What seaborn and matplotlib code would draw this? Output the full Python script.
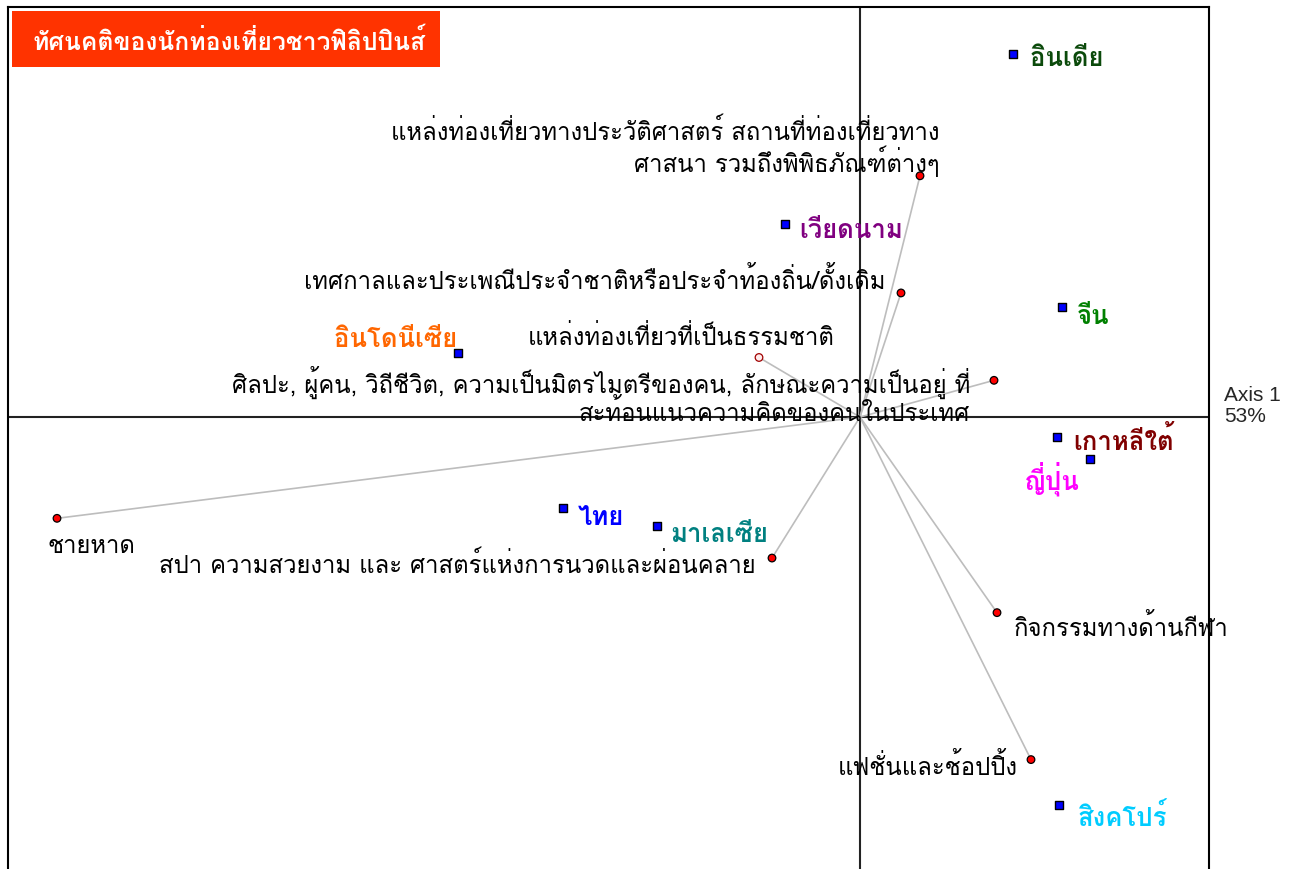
import matplotlib
matplotlib.use("Agg")
import matplotlib.pyplot as plt
from matplotlib.patches import Rectangle
import seaborn as sns
import pandas as pd

# ---- data: correspondence analysis coordinates ----
countries = ["อินเดีย", "เวียดนาม", "จีน", "อินโดนีเซีย", "เกาหลีใต้",
             "ญี่ปุ่น", "ไทย", "มาเลเซีย", "สิงคโปร์"]
country_x = [0.306, -0.150, 0.404, -0.804, 0.394, 0.460, -0.594, -0.406, 0.398]
country_y = [0.732, 0.388, 0.222, 0.130, -0.040, -0.084, -0.184, -0.220, -0.782]
country_colors = ["#0B4A0B", "#800080", "#008000", "#FF6600", "#800000",
                  "#FF00FF", "#0000FF", "#008080", "#00CCFF"]

attributes = ["แหล่งท่องเที่ยวทางประวัติศาสตร์ สถานที่ท่องเที่ยวทาง\nศาสนา รวมถึงพิพิธภัณฑ์ต่างๆ",
              "เทศกาลและประเพณีประจำชาติหรือประจำท้องถิ่น/ดั้งเดิม",
              "แหล่งท่องเที่ยวที่เป็นธรรมชาติ",
              "ศิลปะ, ผู้คน, วิถีชีวิต, ความเป็นมิตรไมตรีของคน, ลักษณะความเป็นอยู่ ที่\nสะท้อนแนวความคิดของคนในประเทศ",
              "ชายหาด",
              "สปา ความสวยงาม และ ศาสตร์แห่งการนวดและผ่อนคลาย",
              "กิจกรรมทางด้านกีฬา",
              "แฟชั่นและช้อปปิ้ง"]
attr_x = [0.120, 0.082, -0.202, 0.268, -1.606, -0.176, 0.274, 0.342]
attr_y = [0.486, 0.250, 0.120, 0.074, -0.204, -0.284, -0.394, -0.690]

title = "ทัศนคติของนักท่องเที่ยวชาวฟิลิปปินส์"
axis_label = "Axis 1\n53%"

sns.set_style("white")
plt.rcParams["font.family"] = ["Loma", "Sarabun", "DejaVu Sans"]

fig = plt.figure(figsize=(12.93, 8.7), dpi=100)
ax = fig.add_axes([8 / 1293, -0.05, 1201 / 1293, 1 - 8 / 870 + 0.05])
ax.set_xlim(-1.704, 0.698)
ax.set_ylim(-0.998, 0.826)
for side in ["left", "top", "right"]:
    ax.spines[side].set_color("black")
    ax.spines[side].set_linewidth(1.5)
ax.spines["bottom"].set_visible(False)
ax.set_xticks([])
ax.set_yticks([])

ax.axhline(0, color="#222222", lw=1.5, zorder=1)
ax.axvline(0, color="#222222", lw=1.5, zorder=1)

# rays from origin to attribute points
for x, y in zip(attr_x, attr_y):
    ax.plot([0, x], [0, y], color="#BDBDBD", lw=1.2, zorder=2)

face = ["#FFECEC" if l == "แหล่งท่องเที่ยวที่เป็นธรรมชาติ" else "red" for l in attributes]
edge = ["#A00000" if l == "แหล่งท่องเที่ยวที่เป็นธรรมชาติ" else "black" for l in attributes]
ax.scatter(attr_x, attr_y, s=30, c=face, edgecolors=edge, linewidths=0.9, zorder=4)

cty = pd.DataFrame({"x": country_x, "y": country_y, "country": countries})
sns.scatterplot(data=cty, x="x", y="y", marker="s", s=32, color="#0000FF",
                edgecolor="black", linewidth=1.0, ax=ax, zorder=5, legend=False)
ax.set_xlabel("")
ax.set_ylabel("")

# label offsets (points) and alignment
attr_pos = [((14.4, 21), "right"),
            ((-11.5, 10), "right"),
            ((54.7, 15), "right"),
            ((-17.3, -10.5), "right"),
            ((-6.5, -19.5), "left"),
            ((-12, -4), "right"),
            ((12, -10), "left"),
            ((-9.4, -4), "right")]
for x, y, lab, (off, ha) in zip(attr_x, attr_y, attributes, attr_pos):
    ax.annotate(lab, (x, y), xytext=off, textcoords="offset points",
                ha=ha, va="center", fontsize=17.2, color="black", multialignment="right",
                linespacing=1.0, zorder=6)

cty_pos = [((12.2, -2.8), "left"), ((10, -4), "left"), ((10.8, -6.5), "left"),
           ((-0.7, 9.5), "right"), ((11.5, -2), "left"), ((-7.2, -13.5), "right"),
           ((10.8, -6.5), "left"), ((9.4, -5.5), "left"), ((13.7, -7.8), "left")]
for x, y, lab, col, (off, ha) in zip(country_x, country_y, countries, country_colors, cty_pos):
    ax.annotate(lab, (x, y), xytext=off, textcoords="offset points",
                ha=ha, va="center", fontsize=18.5, fontweight="bold", color=col, zorder=6)

# title box
fig.patches.append(Rectangle((12 / 1293, 1 - 68 / 870), 428 / 1293, 56 / 870,
                             transform=fig.transFigure, fc="#FF3300", ec="none", zorder=3))
fig.text(32 / 1293, 1 - 42 / 870, title, color="white", fontsize=17.8,
         fontweight="bold", va="center", ha="left", zorder=4)

fig.text(1224 / 1293, 1 - 406 / 870, axis_label, fontsize=15, va="center", ha="left",
         family=["Liberation Sans", "DejaVu Sans"], linespacing=1.15)

fig.savefig("out.png", dpi=100)
